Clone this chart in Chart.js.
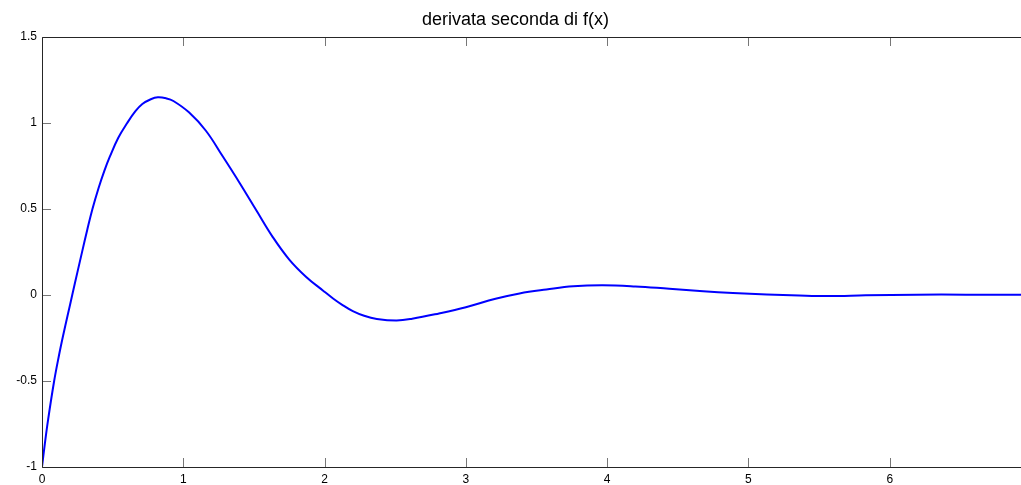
<!DOCTYPE html>
<html>
<head>
<meta charset="utf-8">
<script src="https://cdn.jsdelivr.net/npm/chart.js@4"></script>
<style>
  html, body { margin: 0; padding: 0; background: #fff; overflow: hidden; }
  #wrap { width: 1076px; height: 485px; }
</style>
</head>
<body>
<div id="wrap"><canvas id="derivChart" width="1076" height="485"></canvas></div>
<script>
// values
const xValues = [0, 0.02, 0.043, 0.086, 0.12, 0.15, 0.18, 0.214, 0.25, 0.285, 0.32, 0.357, 0.4, 0.44, 0.48,
  0.54, 0.603, 0.66, 0.71, 0.77, 0.82, 0.88, 0.93, 1.04, 1.16, 1.28, 1.4, 1.52, 1.63, 1.75, 1.87, 1.99,
  2.06, 2.13, 2.2, 2.28, 2.37, 2.51, 2.62, 2.81, 3.0, 3.21, 3.38, 3.57, 3.76, 3.97, 4.2, 4.44, 4.68, 4.89, 5.13,
  5.36, 5.57, 5.83, 6.19, 6.54, 7.0];
const yValues = [-1, -0.866, -0.726, -0.5, -0.352, -0.234, -0.124, 0, 0.13, 0.255, 0.378, 0.5, 0.621, 0.719, 0.804,
  0.914, 1.0, 1.067, 1.11, 1.138, 1.149, 1.143, 1.128, 1.062, 0.955, 0.805, 0.65, 0.488, 0.341, 0.206, 0.105, 0.025,
  -0.02, -0.06, -0.094, -0.121, -0.139, -0.148, -0.138, -0.107, -0.071, -0.022, 0.009, 0.032, 0.051, 0.057, 0.05, 0.036, 0.022, 0.012, 0.003,
  -0.003, -0.006, -0.002, 0.002, 0.002, 0.002];
const xTicks = [0, 1, 2, 3, 4, 5, 6, 7];
const yTicks = [-1, -0.5, 0, 0.5, 1, 1.5];
const chartTitle = 'derivata seconda di f(x)';

const points = xValues.map((x, i) => ({ x: x, y: yValues[i] }));

// MATLAB style box with inward ticks
const boxPlugin = {
  id: 'boxPlugin',
  afterDraw(chart) {
    const ctx = chart.ctx;
    const a = chart.chartArea;
    const xs = chart.scales.x, ys = chart.scales.y;
    const len = 9;
    ctx.save();
    ctx.lineWidth = 1;
    ctx.strokeStyle = '#777';
    ctx.beginPath();
    xTicks.forEach(v => {
      const px = Math.round(xs.getPixelForValue(v)) + 0.5;
      ctx.moveTo(px, a.bottom); ctx.lineTo(px, a.bottom - len);
      ctx.moveTo(px, a.top); ctx.lineTo(px, a.top + len);
    });
    yTicks.forEach(v => {
      const py = Math.round(ys.getPixelForValue(v)) + 0.5;
      ctx.moveTo(a.left, py); ctx.lineTo(a.left + len, py);
      ctx.moveTo(a.right, py); ctx.lineTo(a.right - len, py);
    });
    ctx.stroke();
    ctx.strokeStyle = '#262626';
    ctx.beginPath();
    const l = Math.round(a.left) + 0.5, r = Math.round(a.right) + 0.5;
    const t = Math.round(a.top) + 0.5, b = Math.round(a.bottom) + 0.5;
    ctx.moveTo(l, t); ctx.lineTo(r, t); ctx.lineTo(r, b); ctx.lineTo(l, b); ctx.closePath();
    ctx.stroke();
    ctx.restore();
  }
};

const ctx = document.getElementById('derivChart').getContext('2d');
const derivChart = new Chart(ctx, {
  type: 'scatter',
  data: {
    datasets: [{
      data: points,
      showLine: true,
      borderColor: '#0000ff',
      borderWidth: 2,
      pointRadius: 0,
      tension: 0.4,
      fill: false
    }]
  },
  options: {
    responsive: false,
    animation: false,
    layout: { padding: { left: 0, right: 45, top: 0, bottom: 0 } },
    plugins: {
      legend: { display: false },
      tooltip: { enabled: false },
      title: {
        display: true,
        text: chartTitle,
        color: '#000',
        font: { family: '"Liberation Sans", Arial, sans-serif', size: 18, weight: 'normal', lineHeight: 1.2 },
        padding: { top: 9, bottom: 6.4 }
      }
    },
    scales: {
      x: {
        type: 'linear',
        min: 0,
        max: 7,
        grid: { display: false, drawTicks: false },
        border: { display: false },
        afterBuildTicks: scale => { scale.ticks = xTicks.map(v => ({ value: v })); },
        afterFit: scale => { scale.height = 18; },
        ticks: {
          padding: 5,
          color: '#000',
          maxRotation: 0,
          font: { family: '"Liberation Sans", Arial, sans-serif', size: 12 },
          callback: v => String(v)
        }
      },
      y: {
        type: 'linear',
        min: -1,
        max: 1.5,
        grid: { display: false, drawTicks: false },
        border: { display: false },
        afterBuildTicks: scale => { scale.ticks = yTicks.map(v => ({ value: v })); },
        afterFit: scale => { scale.width = 42; },
        ticks: {
          padding: 5,
          color: '#000',
          font: { family: '"Liberation Sans", Arial, sans-serif', size: 12 },
          callback: v => String(v)
        }
      }
    }
  },
  plugins: [boxPlugin]
});
</script>
</body>
</html>
